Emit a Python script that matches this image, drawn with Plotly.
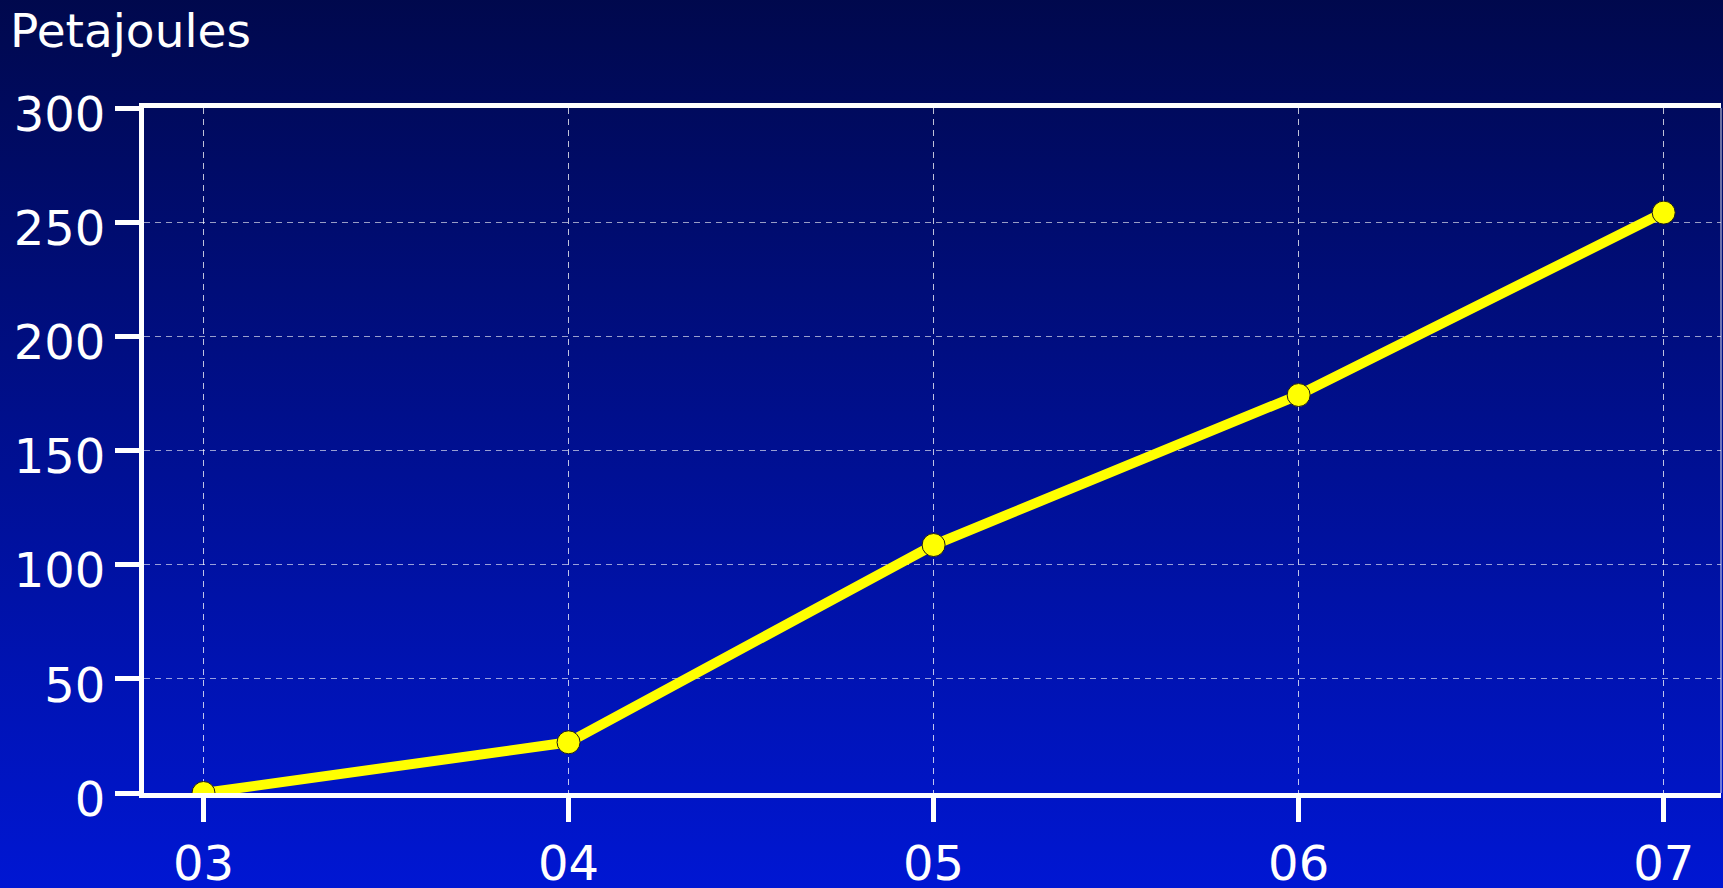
import base64
import plotly.graph_objects as go

# ---- data ----
years = ["03", "04", "05", "06", "07"]
petajoules = [0, 22.2, 108.6, 174.3, 254.2]
y_ticks = [0, 50, 100, 150, 200, 250, 300]
y_title = "Petajoules"

W, H = 1723, 888
L, R, T, B = 144, 2, 108, 95
PW, PH = W - L - R, H - T - B
EXT = 20  # background overhang beyond the page edges

svg = (
    f'<svg xmlns="http://www.w3.org/2000/svg" width="{W + 2 * EXT}" height="{H + 2 * EXT}" preserveAspectRatio="none">'
    '<defs><linearGradient id="g" x1="0" y1="0" x2="0" y2="1">'
    '<stop offset="0" stop-color="#00084a"/>'
    '<stop offset="1" stop-color="#0017d6"/>'
    '</linearGradient></defs>'
    f'<rect x="0" y="0" width="{W + 2 * EXT}" height="{H + 2 * EXT}" fill="url(#g)"/></svg>'
)
bg = "data:image/svg+xml;base64," + base64.b64encode(svg.encode()).decode()

FONT = "DejaVu Sans"

fig = go.Figure()
fig.add_trace(go.Scatter(
    x=years, y=petajoules, mode="lines+markers",
    line=dict(color="#ffff00", width=10),
    marker=dict(size=23, color="#ffff00", line=dict(color="#1a1a1a", width=1)),
    showlegend=False, hoverinfo="x+y",
))

fig.update_layout(
    width=W, height=H,
    margin=dict(l=L, r=R, t=T, b=B, autoexpand=False),
    paper_bgcolor="#000c80",
    plot_bgcolor="rgba(0,0,0,0)",
    font=dict(family=FONT, color="white"),
    images=[dict(
        source=bg, xref="paper", yref="paper",
        x=-(L + EXT) / PW, y=1 + (T + EXT) / PH,
        sizex=(W + 2 * EXT) / PW, sizey=(H + 2 * EXT) / PH,
        sizing="stretch", xanchor="left", yanchor="top", layer="below",
    )],
    xaxis=dict(
        type="category", range=[-0.163, 4.157], automargin=False,
        showline=True, linecolor="white", linewidth=5, mirror=True,
        ticks="outside", ticklen=24, tickwidth=5, tickcolor="white",
        tickfont=dict(size=48, family=FONT, color="white"),
        showgrid=True, gridcolor="rgba(255,255,255,0.75)", gridwidth=1,
        griddash="6px,5px", zeroline=False,
    ),
    yaxis=dict(
        range=[0, 300], tickvals=y_ticks, automargin=False,
        showline=True, linecolor="white", linewidth=5, mirror=False,
        ticks="outside", ticklen=24, tickwidth=5, tickcolor="white",
        tickfont=dict(size=48, family=FONT, color="white"),
        ticklabelshift=6,
        showgrid=True, gridcolor="rgba(255,255,255,0.6)", gridwidth=1,
        griddash="6px,5px", zeroline=False,
    ),
    shapes=[dict(type="line", xref="paper", yref="paper", x0=1, x1=1, y0=0, y1=1,
                 line=dict(color="rgba(255,255,255,0.85)", width=1))],
    annotations=[dict(
        text=y_title, xref="paper", yref="paper",
        x=(8 - L) / PW, y=1 + (T - 1) / PH, xanchor="left", yanchor="top",
        showarrow=False, font=dict(size=47, family=FONT, color="white"),
    )],
)

post = (
    "document.documentElement.style.margin='0';"
    "document.documentElement.style.overflow='hidden';"
    "document.body.style.margin='0';"
    "document.body.style.overflow='hidden';"
    "document.body.style.background='#0016d4';"
)
fig.write_html("out.html", config={"displayModeBar": False}, post_script=post)
